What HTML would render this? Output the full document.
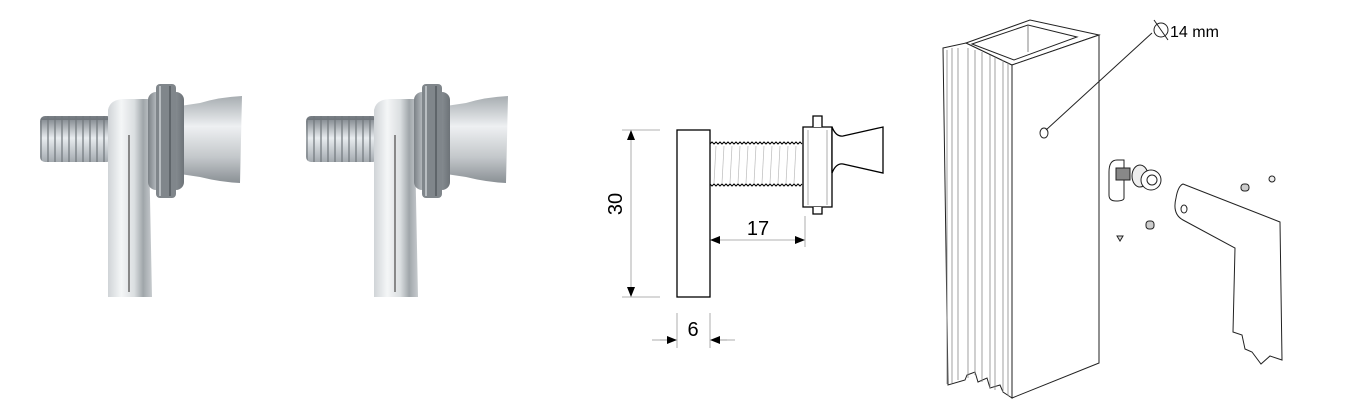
<!DOCTYPE html>
<html><head><meta charset="utf-8"><style>
html,body{margin:0;padding:0;background:#fff;}
svg{display:block;}
text{font-family:"Liberation Sans",Arial,sans-serif;}
</style></head><body>
<svg width="1347" height="418" viewBox="0 0 1347 418" xmlns="http://www.w3.org/2000/svg">
<defs>
<linearGradient id="thr" x1="0" y1="0" x2="0" y2="1">
<stop offset="0" stop-color="#8a9096"/><stop offset="0.3" stop-color="#e8ecef"/><stop offset="0.6" stop-color="#b5bbc0"/><stop offset="1" stop-color="#6f757b"/></linearGradient>
<linearGradient id="blk" x1="0" y1="0" x2="1" y2="0">
<stop offset="0" stop-color="#d0d4d7"/><stop offset="0.3" stop-color="#f4f6f7"/><stop offset="0.6" stop-color="#dadee0"/><stop offset="0.8" stop-color="#a0a6aa"/><stop offset="1" stop-color="#c7cbce"/></linearGradient>
<linearGradient id="cone" x1="0" y1="0" x2="0" y2="1">
<stop offset="0" stop-color="#a7adb1"/><stop offset="0.35" stop-color="#eef0f2"/><stop offset="0.7" stop-color="#c4c8cb"/><stop offset="1" stop-color="#8a9095"/></linearGradient>
<linearGradient id="col" x1="0" y1="0" x2="1" y2="0">
<stop offset="0" stop-color="#7b8186"/><stop offset="0.3" stop-color="#c4c9cd"/><stop offset="0.6" stop-color="#969ca1"/><stop offset="1" stop-color="#6d7378"/></linearGradient>
<pattern id="tp" width="7" height="60" patternUnits="userSpaceOnUse"><rect width="7" height="60" fill="url(#thr)"/><rect x="5" width="2" height="60" fill="#70777c" opacity="0.6"/></pattern>
<g id="ph">
<rect x="40" y="116" width="72" height="46" rx="5" fill="url(#tp)"/>
<path d="M108 110 Q110 99 125 99 L148 99 L152 297 L108 297 Z" fill="url(#blk)"/>
<line x1="129" y1="135" x2="129" y2="292" stroke="#888" stroke-width="2"/>
<path d="M180 106 L200 103 Q220 97 242 96 L240 183 Q220 182 200 177 L180 174 Z" fill="url(#cone)"/>
<rect x="148" y="92" width="36" height="98" rx="8" fill="url(#col)"/>
<rect x="156" y="84" width="20" height="114" rx="4" fill="#80868b"/>
<line x1="160" y1="86" x2="160" y2="196" stroke="#b8bdc1" stroke-width="2"/>
<line x1="170" y1="86" x2="170" y2="196" stroke="#5f656a" stroke-width="2"/>
</g>
<marker id="ar" markerWidth="10" markerHeight="8" refX="9" refY="4" orient="auto" markerUnits="userSpaceOnUse"><path d="M0 0 L10 4 L0 8 Z" fill="#000"/></marker>
</defs>
<use href="#ph"/>
<use href="#ph" x="266"/>

<!-- drawing -->
<rect x="677" y="130" width="33" height="167" fill="#fff" stroke="#000" stroke-width="1.3"/>
<g stroke="#000" fill="none" stroke-width="1">
<path d="M710 144 l2 -2 l2 2 l2 -2 l2 2 l2 -2 l2 2 l2 -2 l2 2 l2 -2 l2 2 l2 -2 l2 2 l2 -2 l2 2 l2 -2 l2 2 l2 -2 l2 2 l2 -2 l2 2 l2 -2 l2 2 l2 -2 l2 2 l2 -2 l2 2 l2 -2 l2 2 l2 -2 l2 2 l2 -2 l2 2 l2 -2 l2 2 l2 -2 l2 2 l2 -2 l2 2 l2 -2 l2 2 l2 -2 l2 2 l2 -2 l2 2 l2 -2 l2 2"/>
<path d="M710 184 l2 2 l2 -2 l2 2 l2 -2 l2 2 l2 -2 l2 2 l2 -2 l2 2 l2 -2 l2 2 l2 -2 l2 2 l2 -2 l2 2 l2 -2 l2 2 l2 -2 l2 2 l2 -2 l2 2 l2 -2 l2 2 l2 -2 l2 2 l2 -2 l2 2 l2 -2 l2 2 l2 -2 l2 2 l2 -2 l2 2 l2 -2 l2 2 l2 -2 l2 2 l2 -2 l2 2 l2 -2 l2 2 l2 -2 l2 2 l2 -2 l2 2 l2 -2"/>
</g>
<g stroke="#bbb" stroke-width="0.7">
<line x1="716" y1="146" x2="714" y2="183"/><line x1="724" y1="146" x2="722" y2="183"/><line x1="732" y1="146" x2="730" y2="183"/><line x1="740" y1="146" x2="738" y2="183"/><line x1="748" y1="146" x2="746" y2="183"/><line x1="756" y1="146" x2="754" y2="183"/><line x1="764" y1="146" x2="762" y2="183"/><line x1="772" y1="146" x2="770" y2="183"/><line x1="780" y1="146" x2="778" y2="183"/><line x1="788" y1="146" x2="786" y2="183"/><line x1="796" y1="146" x2="794" y2="183"/>
</g>
<path d="M803 127 V207 H832 V127 Z" fill="#fff" stroke="#000" stroke-width="1.3"/>
<path d="M813 207 V214 H822 V207 M813 127 V116 H822 V127" fill="#fff" stroke="#000" stroke-width="1.3"/>
<line x1="808" y1="130" x2="808" y2="205" stroke="#999" stroke-width="0.8"/>
<line x1="827" y1="130" x2="827" y2="205" stroke="#999" stroke-width="0.8"/>
<path d="M832 127 Q836 137 843 136 L883 127 L883 173 L843 164 Q836 163 832 173 Z" fill="#fff" stroke="#000" stroke-width="1.3"/>
<g stroke="#999" stroke-width="0.8">
<line x1="622" y1="130" x2="660" y2="130"/><line x1="622" y1="297" x2="660" y2="297"/>
<line x1="805" y1="216" x2="805" y2="247"/>
<line x1="677" y1="313" x2="677" y2="348"/><line x1="710" y1="313" x2="710" y2="348"/>
<line x1="652" y1="340" x2="667" y2="340"/><line x1="720" y1="340" x2="735" y2="340"/>
</g>
<g stroke="#999" stroke-width="0.8" marker-end="url(#ar)">
<line x1="631" y1="213" x2="631" y2="131"/><line x1="631" y1="213" x2="631" y2="296"/>
<line x1="758" y1="240" x2="711" y2="240"/><line x1="758" y1="240" x2="804" y2="240"/>
<line x1="660" y1="340" x2="676" y2="340"/><line x1="727" y1="340" x2="711" y2="340"/>
</g>
<text x="632" y="214" font-size="20" text-anchor="middle" transform="rotate(-90 622 214)">30</text>
<text x="758" y="235" font-size="20" text-anchor="middle">17</text>
<text x="693" y="336" font-size="20" text-anchor="middle">6</text>

<!-- profile -->
<g stroke="#222" stroke-width="1" fill="#fff">
<path d="M943 48 L966 43 L1012 65 L1012 398 L1003 392 L1000 385 L990 388 L987 378 L978 382 L975 372 L967 375 L965 380 L948 385 Z"/>
<path d="M966 43 L1030 20 L1099 35 L1012 65 Z"/>
<path d="M972 44 L1028 25 L1077 37 L1014 60 Z"/>
<line x1="1028" y1="25" x2="1028" y2="52" stroke="#666" stroke-width="0.8"/>
<path d="M1012 65 L1099 35 L1099 363 L1012 398 Z"/>
<g fill="none" stroke="#888" stroke-width="0.8">
<line x1="947" y1="50" x2="947" y2="384"/><line x1="952" y1="48" x2="952" y2="383"/><line x1="958" y1="48" x2="958" y2="380"/>
<line x1="968" y1="48" x2="968" y2="378"/><line x1="975" y1="50" x2="975" y2="375"/><line x1="982" y1="52" x2="982" y2="382"/>
<line x1="990" y1="55" x2="990" y2="388"/><line x1="995" y1="57" x2="995" y2="390"/><line x1="1003" y1="60" x2="1003" y2="392"/><line x1="1008" y1="63" x2="1008" y2="396"/>
</g>
<ellipse cx="1044" cy="133" rx="4" ry="5"/>
<line x1="1046" y1="130" x2="1152" y2="33" fill="none"/>
<circle cx="1161" cy="30" r="7" fill="none"/>
<line x1="1154" y1="20" x2="1168" y2="40"/>
</g>
<text x="1170" y="37" font-size="16">14 mm</text>

<!-- screw piece -->
<g stroke="#222" stroke-width="1">
<path d="M1109 172 Q1109 160 1117 160 L1124 160 L1124 198 Q1124 201 1116 201 Q1109 201 1109 195 Z" fill="#fff"/>
<rect x="1116" y="168" width="14" height="12" fill="#888"/>
<ellipse cx="1140" cy="176" rx="8" ry="11" fill="#eee"/>
<circle cx="1151" cy="180" r="10" fill="#fff"/>
<circle cx="1152" cy="180" r="5" fill="#fff"/>
<rect x="1146" y="221" width="8" height="8" rx="3" fill="#ccc"/>
<path d="M1117 236 l3 5 l3 -5 Z" fill="#ddd"/>
<rect x="1241" y="184" width="8" height="7" rx="3" fill="#ccc"/>
<circle cx="1272" cy="179" r="3" fill="#eee"/>
<path d="M1183 184 L1280 222 L1282 360 L1270 356 L1261 364 L1252 352 L1245 349 L1242 335 L1233 332 L1235 248 L1183 220 Q1172 214 1176 198 Q1178 186 1183 184 Z" fill="#fff"/>
<ellipse cx="1184" cy="209" rx="3" ry="4" fill="#fff"/>
</g>
</svg>
</body></html>
